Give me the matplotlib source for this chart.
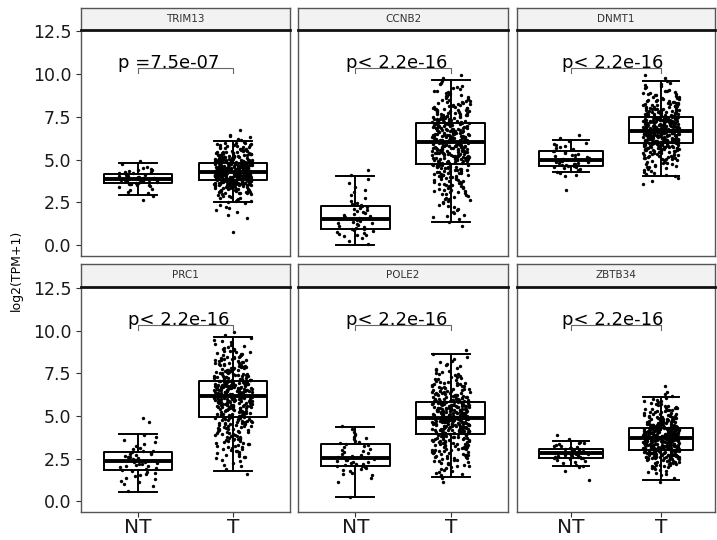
import matplotlib
matplotlib.use('Agg')
import matplotlib.pyplot as plt
import numpy as np

GENES = ['TRIM13', 'CCNB2', 'DNMT1', 'PRC1', 'POLE2', 'ZBTB34']
GROUPS = ['NT', 'T']
P_LABELS = ['p =7.5e-07', 'p< 2.2e-16', 'p< 2.2e-16',
            'p< 2.2e-16', 'p< 2.2e-16', 'p< 2.2e-16']

# box stats: whisker low, q1, median, q3, whisker high
NT_BOX = [[2.91, 3.63, 3.88, 4.17, 4.80],
          [0.00, 0.95, 1.55, 2.27, 4.02],
          [4.25, 4.60, 4.95, 5.48, 6.16],
          [0.55, 1.82, 2.38, 2.87, 3.96],
          [0.23, 2.05, 2.54, 3.36, 4.36],
          [2.09, 2.54, 2.83, 3.09, 3.55]]
T_BOX = [[2.50, 3.83, 4.29, 4.80, 6.06],
         [1.34, 4.76, 6.00, 7.13, 9.65],
         [4.02, 5.96, 6.70, 7.48, 9.61],
         [1.80, 4.92, 6.15, 7.03, 9.63],
         [1.41, 3.95, 4.88, 5.82, 8.63],
         [1.27, 3.03, 3.71, 4.30, 6.09]]

# number of samples per 0.5-wide bin of log2(TPM+1), from 0 up to 10
BIN_WIDTH = 0.5
NT_COUNTS = [[0, 0, 0, 0, 0, 2, 6, 23, 14, 3, 0, 0, 0, 0, 0, 0, 0, 0, 0, 0],
             [3, 10, 10, 10, 8, 3, 3, 2, 2, 0, 0, 0, 0, 0, 0, 0, 0, 0, 0, 0],
             [0, 0, 0, 0, 0, 0, 1, 0, 6, 17, 11, 8, 3, 0, 0, 0, 0, 0, 0, 0],
             [0, 2, 6, 8, 13, 11, 5, 3, 0, 2, 0, 0, 0, 0, 0, 0, 0, 0, 0, 0],
             [1, 0, 2, 7, 13, 8, 8, 6, 3, 0, 0, 0, 0, 0, 0, 0, 0, 0, 0, 0],
             [0, 0, 1, 1, 8, 22, 12, 2, 0, 0, 0, 0, 0, 0, 0, 0, 0, 0, 0, 0]]
T_COUNTS = [[0, 1, 0, 3, 5, 12, 30, 75, 95, 80, 38, 22, 6, 1, 0, 0, 0, 0, 0, 0],
            [0, 0, 2, 6, 6, 10, 15, 18, 22, 30, 38, 40, 42, 38, 32, 25, 18, 12, 7, 3],
            [0, 0, 0, 0, 0, 0, 0, 3, 8, 15, 25, 45, 65, 70, 55, 35, 25, 15, 8, 3],
            [0, 0, 0, 2, 5, 10, 14, 18, 20, 25, 32, 42, 50, 55, 30, 25, 20, 14, 7, 3],
            [0, 0, 2, 8, 14, 20, 24, 28, 45, 55, 52, 42, 30, 20, 12, 8, 5, 2, 0, 0],
            [0, 0, 2, 8, 22, 55, 65, 75, 70, 35, 22, 12, 4, 1, 0, 0, 0, 0, 0, 0]]

W, H = 717, 540
COL_L = [81, 298, 517]
COL_R = [290, 508, 715]
STRIP_TOP = [8, 264]
PANEL_TOP = [30, 287]
PANEL_BOT = [256, 512]

rng = np.random.default_rng(7)


def spread_points(counts, pos, width=0.2):
    # samples of each bin laid out evenly in y, horizontal jitter like geom_jitter
    ys = []
    for i, c in enumerate(counts):
        for j in range(c):
            ys.append(i * BIN_WIDTH + (j + 0.5) / c * BIN_WIDTH)
    ys = np.array(ys)
    xs = pos + rng.uniform(-width, width, len(ys))
    return xs, ys


def box_stats(s, label):
    return {'whislo': s[0], 'q1': s[1], 'med': s[2], 'q3': s[3],
            'whishi': s[4], 'label': label}


fig = plt.figure(figsize=(W / 100, H / 100), dpi=100)

for g in range(len(GENES)):
    r, c = divmod(g, 3)
    l, rr = COL_L[c], COL_R[c]
    ax = fig.add_axes([l / W, 1 - PANEL_BOT[r] / H, (rr - l) / W,
                       (PANEL_BOT[r] - PANEL_TOP[r]) / H])
    st = fig.add_axes([l / W, 1 - PANEL_TOP[r] / H, (rr - l) / W,
                       (PANEL_TOP[r] - STRIP_TOP[r]) / H])

    # strip
    st.set_facecolor('#f2f2f2')
    st.set_xticks([])
    st.set_yticks([])
    for sp in st.spines.values():
        sp.set_color('#555555')
        sp.set_linewidth(1.0)
    st.spines['bottom'].set_color('#111111')
    st.spines['bottom'].set_linewidth(2.0)
    st.text(0.5, 0.5, GENES[g], transform=st.transAxes, ha='center',
            va='center', fontsize=7.5, color='#333333')

    stats = [box_stats(NT_BOX[g], 'NT'), box_stats(T_BOX[g], 'T')]
    ax.bxp(stats, positions=[1, 2], widths=0.72, showfliers=False,
           capwidths=0.4,
           boxprops=dict(color='black', linewidth=1.4),
           whiskerprops=dict(color='black', linewidth=1.4),
           capprops=dict(color='black', linewidth=1.4),
           medianprops=dict(color='black', linewidth=2.8))
    for p, counts in ((1, NT_COUNTS[g]), (2, T_COUNTS[g])):
        xs, ys = spread_points(counts, p)
        ax.scatter(xs, ys, s=6, color='black', linewidths=0, zorder=3)

    # significance bracket
    ax.plot([1, 1, 2, 2], [10.04, 10.33, 10.33, 10.04], color='#666666',
            linewidth=0.8, zorder=4)
    lx = 0.79 if g == 0 else 0.9
    ax.text(lx, 10.36, P_LABELS[g], ha='left', va='baseline', fontsize=13,
            color='black', zorder=5)

    ax.set_xlim(0.4, 2.6)
    ax.set_ylim(-0.63, 12.57)
    ax.set_yticks([0, 2.5, 5, 7.5, 10, 12.5])
    ax.set_xticks([1, 2])
    for sp in ax.spines.values():
        sp.set_color('#555555')
        sp.set_linewidth(1.0)
    ax.spines['top'].set_visible(False)
    ax.tick_params(length=3.5, width=0.8, color='#333333')
    if c == 0:
        ax.set_yticklabels(['0.0', '2.5', '5.0', '7.5', '10.0', '12.5'],
                           fontsize=12.5, color='#1a1a1a')
    else:
        ax.tick_params(axis='y', left=False, labelleft=False)
    if r == 1:
        ax.set_xticklabels(GROUPS, fontsize=14.5, color='#1a1a1a')
        ax.tick_params(axis='x', pad=1)
    else:
        ax.tick_params(axis='x', bottom=False, labelbottom=False)

fig.text(16 / W, 1 - 270 / H, 'log2(TPM+1)', rotation=90, ha='center',
         va='center', fontsize=9, color='black')

fig.savefig('out.png', dpi=100)
